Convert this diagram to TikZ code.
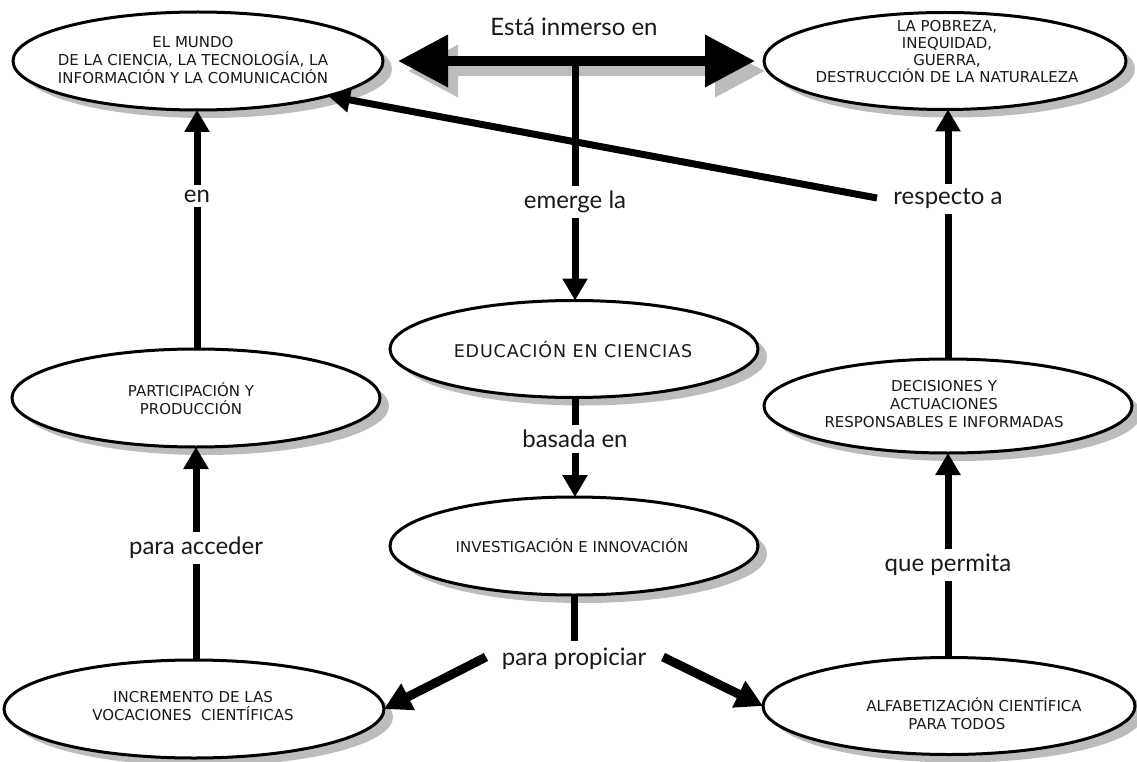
\documentclass[tikz,border=0pt]{standalone}
\usepackage{fontspec}
\setmainfont{DejaVu Sans}
\newfontfamily\lblfont{Lato}
\newfontfamily\spaced[LetterSpace=5]{DejaVu Sans}
\usetikzlibrary{arrows.meta,shapes.geometric}
\definecolor{shadowgrey}{RGB}{188,188,188}

\begin{document}
\begin{tikzpicture}[x=1pt,y=-1pt,
  bubble/.style={ellipse, draw=black, line width=3pt, fill=white,
    inner sep=0pt, outer sep=0pt},
  shadowfill/.style={fill=shadowgrey, draw=none,
    transform canvas={xshift=9pt, yshift=-8pt}},
  btext/.style={align=center, text=black!90, inner sep=0pt,
    font=\fontsize{15}{18}\selectfont},
  lbl/.style={font=\lblfont\fontsize{24}{26}\selectfont, text=black!90,
    inner xsep=5pt, inner ysep=5pt},
  link/.style={line width=7pt},
  conn/.style={line width=7pt, -{Triangle[width=24pt,length=22pt]}},
  diag/.style={line width=9pt, -{Triangle[width=28pt,length=27pt]}},
  bigarrow/.style={line width=10pt,
    {Triangle[width=50pt,length=50pt]}-{Triangle[width=50pt,length=50pt]}},
]
\fill[white] (0,0) rectangle (1137,762);
\useasboundingbox (0,0) rectangle (1137,762);

% grey shadows, offset down and to the right of each ellipse
\path[shadowfill] (198,61)  ellipse [x radius=185pt, y radius=49pt];
\path[shadowfill] (945,61)  ellipse [x radius=181pt, y radius=48.5pt];
\path[shadowfill] (574,349) ellipse [x radius=184pt, y radius=48.5pt];
\path[shadowfill] (196,398) ellipse [x radius=184pt, y radius=49pt];
\path[shadowfill] (948,406) ellipse [x radius=184pt, y radius=47pt];
\path[shadowfill] (574,546) ellipse [x radius=184pt, y radius=49pt];
\path[shadowfill] (194,709) ellipse [x radius=190pt, y radius=49pt];
\path[shadowfill] (949,706) ellipse [x radius=186pt, y radius=48.5pt];

% concept ellipses
\node[bubble, minimum width=370pt, minimum height=98pt] (mundo) at (198,61) {};
\node[bubble, minimum width=362pt, minimum height=97pt] (pobreza) at (945,61) {};
\node[bubble, minimum width=368pt, minimum height=97pt] (educ) at (574,349) {};
\node[bubble, minimum width=368pt, minimum height=98pt] (partic) at (196,398) {};
\node[bubble, minimum width=368pt, minimum height=94pt] (decis) at (948,406) {};
\node[bubble, minimum width=368pt, minimum height=98pt] (invest) at (574,546) {};
\node[bubble, minimum width=380pt, minimum height=98pt] (increm) at (194,709) {};
\node[bubble, minimum width=372pt, minimum height=97pt] (alfab) at (949,706) {};

% concept texts
\node[btext] (mundot) at (193,60)
  {EL MUNDO\\DE LA CIENCIA, LA TECNOLOGÍA, LA\\INFORMACIÓN Y LA COMUNICACIÓN};
\node[btext, font=\fontsize{15}{17}\selectfont] (pobrezat) at (947,52)
  {LA POBREZA,\\INEQUIDAD,\\GUERRA,\\DESTRUCCIÓN DE LA NATURALEZA};
\node[btext, font=\spaced\fontsize{17.5}{18}\selectfont] (educt) at (573,350)
  {EDUCACIÓN EN CIENCIAS};
\node[btext] (partict) at (191,399) {PARTICIPACIÓN Y\\PRODUCCIÓN};
\node[btext] (decist) at (944,404)
  {DECISIONES Y\\ACTUACIONES\\RESPONSABLES E INFORMADAS};
\node[btext] (investt) at (572,546) {INVESTIGACIÓN E INNOVACIÓN};
\node[btext] (incremt) at (193,706) {INCREMENTO DE LAS\\VOCACIONES\ \ CIENTÍFICAS};
\node[btext, align=left] (alfabt) at (974,714)
  {ALFABETIZACIÓN CIENTÍFICA\\\hspace*{42pt}PARA TODOS};

% linking words
\node[lbl] (inmerso) at (574,27) {Está inmerso en};
\node[lbl] (emerge) at (575,202) {emerge la};
\node[lbl] (basada) at (575,439) {basada en};
\node[lbl] (propiciar) at (574,659) {para propiciar};
\node[lbl] (en) at (197,196) {en};
\node[lbl] (acceder) at (196,548) {para acceder};
\node[lbl] (permita) at (948,565) {que permita};
\node[lbl] (respecto) at (948,199) {respecto a};

% helper points for the branching connectors
\coordinate (fork) at (575,66);
\coordinate (propL) at (486,657);
\coordinate (propR) at (663,657);
\coordinate (respL) at (877,198);

% the large two-headed arrow and its shadow
\draw[bigarrow, draw=shadowgrey, fill=shadowgrey, shorten <=15pt, shorten >=9pt,
  transform canvas={xshift=10pt, yshift=-10pt}]
  (mundo.east) -- (pobreza.west);
\draw[bigarrow, shorten <=15pt, shorten >=9pt] (mundo.east) -- (pobreza.west);

% centre column
\draw[link] (fork) -- (emerge);
\draw[conn] (emerge) -- (emerge |- educ.north);
\draw[link] (educ.south -| basada) -- (basada);
\draw[conn] (basada) -- (basada |- invest.north);
\draw[link] (invest.south -| propiciar) -- ([yshift=2pt]propiciar.north);
\draw[diag] (propL) -- (increm.east);
\draw[diag] (propR) -- (alfab.west);

% left column
\draw[link] (increm.north -| acceder) -- (acceder);
\draw[conn] (acceder) -- (acceder |- partic.south);
\draw[link] (partic.north -| en) -- (en);
\draw[conn] (en) -- (en |- mundo.south);

% right column
\draw[link] (alfab.north -| permita) -- (permita);
\draw[conn] (permita) -- (permita |- decis.south);
\draw[link] (decis.north -| respecto) -- (respecto);
\draw[conn] (respecto) -- (respecto |- pobreza.south);
\draw[conn] (respL) -- (mundo.-15);
\end{tikzpicture}
\end{document}
